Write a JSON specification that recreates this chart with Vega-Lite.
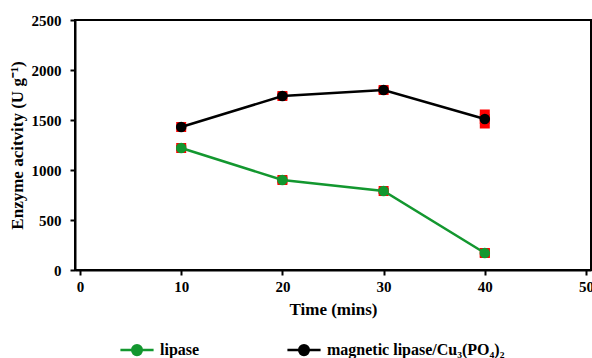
{
  "$schema": "https://vega.github.io/schema/vega-lite/v6.json",
  "width": 516,
  "height": 250,
  "autosize": "none",
  "padding": {"left": 75, "top": 20, "right": 1, "bottom": 88},
  "config": {
    "font": "Liberation Serif",
    "view": {"stroke": "black", "strokeWidth": 2},
    "axis": {
      "grid": false,
      "domainColor": "black",
      "domainWidth": 2,
      "tickColor": "black",
      "tickWidth": 2,
      "tickSize": 5,
      "labelFont": "Liberation Serif",
      "labelFontWeight": "bold",
      "labelFontSize": 15,
      "labelColor": "black",
      "titleFont": "Liberation Serif",
      "titleFontWeight": "bold",
      "titleFontSize": 17,
      "titleColor": "black"
    },
    "legend": {
      "labelFont": "Liberation Serif",
      "labelFontWeight": "bold",
      "labelFontSize": 16,
      "labelColor": "black",
      "labelLimit": 400
    }
  },
  "data": {
    "values": [
      {"time": 10, "activity": 1220, "err": 30, "series": "lipase"},
      {"time": 20, "activity": 900, "err": 35, "series": "lipase"},
      {"time": 30, "activity": 790, "err": 30, "series": "lipase"},
      {"time": 40, "activity": 170, "err": 45, "series": "lipase"},
      {"time": 10, "activity": 1430, "err": 25, "series": "magnetic lipase/Cu₃(PO₄)₂"},
      {"time": 20, "activity": 1740, "err": 35, "series": "magnetic lipase/Cu₃(PO₄)₂"},
      {"time": 30, "activity": 1800, "err": 35, "series": "magnetic lipase/Cu₃(PO₄)₂"},
      {"time": 40, "activity": 1510, "err": 95, "series": "magnetic lipase/Cu₃(PO₄)₂"}
    ]
  },
  "encoding": {
    "x": {
      "field": "time", "type": "quantitative",
      "scale": {"domain": [0, 50], "nice": false},
      "axis": {"values": [0, 10, 20, 30, 40, 50], "format": "d", "title": "Time (mins)", "labelPadding": 4, "titlePadding": 7}
    },
    "y": {
      "field": "activity", "type": "quantitative",
      "scale": {"domain": [0, 2500], "nice": false},
      "axis": {"values": [0, 500, 1000, 1500, 2000, 2500], "format": "d", "title": "Enzyme acitvity (U g⁻¹)", "labelPadding": 9, "titlePadding": 5}
    }
  },
  "layer": [
    {
      "transform": [
        {"calculate": "datum.activity - datum.err", "as": "lo"},
        {"calculate": "datum.activity + datum.err", "as": "hi"}
      ],
      "mark": {"type": "bar", "color": "#ff0000", "width": 10},
      "encoding": {
        "y": {"field": "lo", "type": "quantitative"},
        "y2": {"field": "hi"}
      }
    },
    {
      "mark": {"type": "square", "color": "#ff0000", "size": 100, "opacity": 1},
      "encoding": {}
    },
    {
      "mark": {"type": "line", "strokeWidth": 2.5, "point": {"filled": true, "size": 110, "opacity": 1}},
      "encoding": {
        "color": {
          "field": "series", "type": "nominal",
          "scale": {"domain": ["lipase", "magnetic lipase/Cu₃(PO₄)₂"], "range": ["#13972f", "#000000"]},
          "legend": {
            "title": null,
            "orient": "none",
            "direction": "horizontal",
            "legendX": 44,
            "legendY": 312,
            "padding": 0,
            "symbolType": "M-1,0H1M-0.29,0A0.29,0.29 0 1,0 0.29,0A0.29,0.29 0 1,0 -0.29,0Z",
            "symbolSize": 1100,
            "symbolStrokeWidth": 2.5,
            "symbolOpacity": 1,
            "labelOffset": 5,
            "columnPadding": 82
          }
        }
      }
    }
  ]
}
